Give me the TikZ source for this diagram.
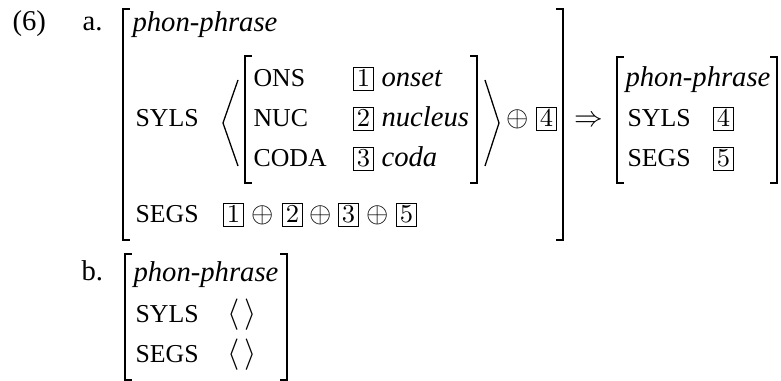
\documentclass[tikz,border=0pt]{standalone}
\usepackage{fontspec}
\setmainfont{Liberation Serif}[ItalicFont={Liberation Serif Italic}]
\newfontfamily\tmfont{Liberation Serif}[ItalicFont={Liberation Serif Italic}]
\newfontfamily\scfont{Liberation Serif}[Scale=0.9]
\begin{document}
\begin{tikzpicture}[x=0.349pt, y=-0.349pt,
  txt/.style={anchor=base west, inner sep=0pt, font=\tmfont\fontsize{10}{12}\selectfont},
  feat/.style={anchor=base west, inner sep=0pt, font=\scfont},
  tag/.style={draw, line width=0.45pt, inner xsep=1.1pt, inner ysep=1.1pt, anchor=base west, font=\fontsize{9.5}{11}\selectfont},
  opr/.style={inner sep=0pt, anchor=base, font=\fontsize{10}{12}\selectfont},
  arr/.style={inner sep=0pt, anchor=base, font=\fontsize{10}{12}\selectfont},
  brk/.style={line width=0.7pt},
  ang/.style={line width=0.45pt}]
\useasboundingbox (0,0) rectangle (781,381);
% labels
\node[txt] (ex) at (12,31) {(6)};
\node[txt] (la) at (82,31) {a.};
\node[txt] (lb) at (81,281) {b.};
% ---- (a) outer AVM
\draw[brk] (130,9) -- (123,9) -- (123,240) -- (130,240);
\draw[brk] (556,9) -- (563,9) -- (563,240) -- (556,240);
\node[txt] (aph) at (132,32) {\itshape phon-phrase};
\node[feat] (asyl) at (135,127) {SYLS};
\node[feat] (aseg) at (135,223) {SEGS};
% list angle brackets
\draw[ang] (238,80) -- (223,123) -- (238,166);
\draw[ang] (485,80) -- (499,123) -- (485,166);
% inner AVM
\draw[brk] (252,56) -- (245,56) -- (245,183) -- (252,183);
\draw[brk] (470,56) -- (477,56) -- (477,183) -- (470,183);
\node[feat] (ons) at (253,87) {ONS};
\node[feat] (nuc) at (253,127) {NUC};
\node[feat] (cod) at (253,167) {CODA};
\node[tag] (t1) at (353,87) {$1$};
\node[tag] (t2) at (353,127) {$2$};
\node[tag] (t3) at (353,167) {$3$};
\node[txt] (on) at (381,87) {\itshape onset};
\node[txt] (nu) at (381,127) {\itshape nucleus};
\node[txt] (co) at (381,167) {\itshape coda};
\node[opr] (op1) at (518,127) {$\oplus$};
\node[tag] (t4) at (536,127) {$4$};
% segs list
\node[tag] (s1) at (223,223) {$1$};
\node[opr] (p1) at (263,223) {$\oplus$};
\node[tag] (s2) at (282,223) {$2$};
\node[opr] (p2) at (321,223) {$\oplus$};
\node[tag] (s3) at (338,223) {$3$};
\node[opr] (p3) at (378,223) {$\oplus$};
\node[tag] (s5) at (396,223) {$5$};
% arrow
\node[arr] (imp) at (589,127) {$\Rightarrow$};
% ---- right AVM
\draw[brk] (624,57) -- (617,57) -- (617,183) -- (624,183);
\draw[brk] (770,57) -- (777,57) -- (777,183) -- (770,183);
\node[txt] (rph) at (625,87) {\itshape phon-phrase};
\node[feat] (rsyl) at (627,127) {SYLS};
\node[feat] (rseg) at (627,167) {SEGS};
\node[tag] (r4) at (713,127) {$4$};
\node[tag] (r5) at (713,167) {$5$};
% ---- (b) AVM
\draw[brk] (132,254) -- (125,254) -- (125,380) -- (132,380);
\draw[brk] (280,254) -- (287,254) -- (287,380) -- (280,380);
\node[txt] (bph) at (133,282) {\itshape phon-phrase};
\node[feat] (bsyl) at (135,323) {SYLS};
\node[feat] (bseg) at (135,363) {SEGS};
\node[txt, font=\fontsize{11}{13}\selectfont] (bl1) at (227,323) {$\langle\,\rangle$};
\node[txt, font=\fontsize{11}{13}\selectfont] (bl2) at (227,363) {$\langle\,\rangle$};
\end{tikzpicture}
\end{document}
